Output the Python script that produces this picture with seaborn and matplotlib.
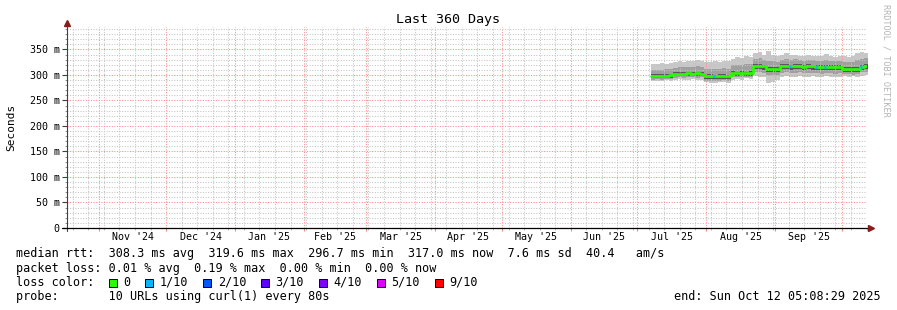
import matplotlib
matplotlib.use("Agg")
import numpy as np
import pandas as pd
import seaborn as sns
import matplotlib.pyplot as plt
import matplotlib.dates as mdates
import matplotlib.transforms as mtransforms
from matplotlib.ticker import MultipleLocator, FuncFormatter
from matplotlib.patches import Rectangle

# ---------------- data (2-day bins starting 2025-07-07, values in ms) ----------------
bin_start = "2025-07-07"
med = [297.5, 298.0, 297.5, 298.5, 299.0,
       301.5, 302.5, 302.0, 303.0, 302.5, 303.0, 302.0,
       298.0, 297.5, 297.0, 297.5, 298.0, 297.0,
       304.5, 303.0, 304.0, 303.0, 303.5,
       317.0, 317.5, 316.5,
       312.5, 312.0, 312.0,
       317.0, 318.0, 316.5, 317.0, 317.0, 316.0, 317.0, 316.5,
       315.5, 315.0, 316.0, 315.5, 315.0, 315.5,
       312.0, 312.5, 311.5, 312.0,
       316.0, 318.0]
loss = [0, 0, 0, 0, 0,
        0, 0, 0, 0, 0, 0, 0,
        0, 0, 1, 0, 0, 0,
        0, 0, 0, 0, 0,
        0, 0, 0,
        0, 0, 0,
        0, 0, 1, 0, 0, 0, 0, 0,
        1, 0, 1, 0, 0, 0,
        0, 0, 0, 0,
        1, 0]
smoke_max = [321, 322, 323, 322, 324,
             325, 327, 326, 328, 327, 329, 327,
             326, 325, 327, 326, 328, 327,
             332, 335, 334, 337, 336,
             343, 345, 340,
             346, 339, 337,
             340, 342, 339, 340, 338, 337, 339, 338,
             337, 338, 341, 337, 336, 338,
             337, 336, 338, 342,
             344, 343]
smoke_hi2 = [309, 310, 310, 311, 311,
             314, 316, 315, 316, 315, 317, 315,
             312, 311, 312, 311, 313, 312,
             319, 320, 320, 322, 321,
             331, 333, 330,
             328, 327, 326,
             330, 332, 330, 331, 329, 328, 330, 329,
             328, 328, 330, 328, 327, 328,
             325, 325, 326, 329,
             331, 333]
smoke_hi3 = [301, 301.5, 301, 302, 302.5,
             305, 306, 305.5, 306.5, 306, 306.5, 305.5,
             301.5, 301, 300.5, 301, 301.5, 300.5,
             308, 306.5, 307.5, 306.5, 307,
             320.5, 321, 320,
             316, 315.5, 315.5,
             320.5, 321.5, 320, 320.5, 320.5, 319.5, 320.5, 320,
             319, 318.5, 319.5, 319, 318.5, 319,
             315.5, 316, 315, 315.5,
             319.5, 321.5]
smoke_lo3 = [293, 293.5, 293, 294, 294.5,
             297, 298, 297.5, 298.5, 298, 298.5, 297.5,
             292.5, 292, 291.5, 292, 292.5, 291.5,
             299, 298, 299, 298, 298.5,
             311, 311.5, 310.5,
             306, 305.5, 306,
             311, 312, 310.5, 311, 311, 310, 311, 310.5,
             310, 309.5, 310.5, 310, 309.5, 310,
             306, 306.5, 305.5, 306,
             310, 312]
smoke_lo2 = [291, 292, 291, 292, 292,
             294, 295, 294, 295, 295, 294, 295,
             289, 289, 288, 289, 290, 289,
             295, 295, 296, 295, 296,
             305, 306, 304,
             299, 299, 300,
             304, 305, 303, 304, 305, 303, 304, 304,
             303, 302, 304, 303, 302, 303,
             301, 301, 300, 301,
             305, 306]
smoke_min = [288, 289, 288, 290, 289,
             291, 292, 290, 291, 292, 290, 291,
             286, 285, 285, 286, 287, 285,
             291, 292, 291, 293, 292,
             297, 296, 295,
             284, 286, 290,
             296, 297, 295, 296, 297, 296, 295, 297,
             296, 295, 297, 296, 295, 296,
             297, 296, 297, 296,
             298, 299]

loss_labels = ["0", "1/10", "2/10", "3/10", "4/10", "5/10", "9/10"]
loss_colors = ["#26ff00", "#00b8ff", "#0059ff", "#5e00ff", "#7e00ff", "#dd00ff", "#ff0000"]

title = "Last 360 Days"
ylabel = "Seconds"
range_start = "2024-10-17 05:08:29"
range_end = "2025-10-12 05:08:29"
stat_lines = [
    "median rtt:  308.3 ms avg  319.6 ms max  296.7 ms min  317.0 ms now  7.6 ms sd  40.4   am/s",
    "packet loss: 0.01 % avg  0.19 % max  0.00 % min  0.00 % now",
]
probe_line = "probe:       10 URLs using curl(1) every 80s"
end_line = "end: Sun Oct 12 05:08:29 2025"
watermark = "RRDTOOL / TOBI OETIKER"

# ---------------- style ----------------
sns.set_theme(style="white")
plt.rcParams['font.family'] = ['DejaVu Sans Mono', 'DejaVu Sans']

W, H = 897, 310
fig = plt.figure(figsize=(W / 100, H / 100), dpi=100, facecolor="white")
ax = fig.add_axes([66.5 / W, 82 / H, 800.5 / W, 201 / H])
ax.set_facecolor("white")

start = pd.Timestamp(range_start)
end = pd.Timestamp(range_end)

dates = pd.date_range(bin_start, periods=len(med), freq="2D")
edges = dates.append(pd.DatetimeIndex([dates[-1] + pd.Timedelta(days=2)]))


def ext(a):
    a = np.asarray(a, dtype=float)
    return np.append(a, a[-1])


# smoke
ax.fill_between(edges, ext(smoke_min), ext(smoke_max), step="post", color="#c8c8c8", lw=0, zorder=1)
ax.fill_between(edges, ext(smoke_lo2), ext(smoke_hi2), step="post", color="#a0a0a0", lw=0, zorder=1)
ax.fill_between(edges, ext(smoke_lo3), ext(smoke_hi3), step="post", color="#585858", lw=0, zorder=1)

# median
df = pd.DataFrame({"date": edges, "median": ext(med)})
sns.lineplot(data=df, x="date", y="median", ax=ax, color=loss_colors[0], lw=1.9,
             drawstyle="steps-post", zorder=3, errorbar=None)
for d, m, l in zip(dates, med, loss):
    if l:
        ax.hlines(m, d, d + pd.Timedelta(hours=22), color=loss_colors[l], lw=1.9, zorder=4)

ax.set_xlim(start, end)
ax.set_ylim(0, 393.9)
ax.set_xlabel("")
ax.set_ylabel("")

# grid
ax.xaxis.set_major_locator(mdates.MonthLocator())
ax.xaxis.set_minor_locator(mdates.WeekdayLocator(byweekday=mdates.SU))
ax.yaxis.set_major_locator(MultipleLocator(50))
ax.yaxis.set_minor_locator(MultipleLocator(10))
ax.yaxis.set_major_formatter(FuncFormatter(lambda v, p: "0" if v == 0 else f"{v:.0f} m"))
ax.grid(which="major", color="#ff8c8c", ls=(0, (1, 1.5)), lw=0.75)
ax.grid(which="minor", color="#c4c4c4", ls=(0, (1, 1.5)), lw=0.75)
ax.set_axisbelow("line")

for s in ax.spines.values():
    s.set_visible(False)

ax.tick_params(axis="y", which="major", left=True, length=3.5, width=0.8, color="#404040",
               direction="out", pad=1.5, labelsize=7.2, labelcolor="black")
ax.tick_params(axis="y", which="minor", left=True, length=1.5, width=0.6, color="#808080", direction="out")
ax.tick_params(axis="x", which="major", bottom=True, length=2.2, width=0.8, color="#ff8080",
               direction="out", labelbottom=False)
ax.tick_params(axis="x", which="minor", bottom=True, length=1.5, width=0.6, color="#b0b0b0", direction="out")

# axis lines + arrows
ax.plot([0, 0], [-0.015, 1.022], transform=ax.transAxes, color="#404040", lw=0.8, clip_on=False, zorder=5)
ax.plot([-0.006, 1.003], [0, 0], transform=ax.transAxes, color="black", lw=0.9, clip_on=False, zorder=5)
ax.plot([0], [1.018], marker="^", color="#8b1a1a", ms=5, transform=ax.transAxes, clip_on=False, zorder=6)
ax.plot([1.0044], [0], marker=">", color="#8b1a1a", ms=5, transform=ax.transAxes, clip_on=False, zorder=6)

# month labels centred in each month
trans = mtransforms.blended_transform_factory(ax.transData, ax.transAxes)
months = pd.date_range("2024-11-01", "2025-09-01", freq="MS")
for m in months:
    nxt = m + pd.offsets.MonthBegin(1)
    mid = m + (nxt - m) / 2
    ax.text(mdates.date2num(mid), -0.047, m.strftime("%b '%y"), transform=trans,
            ha="center", va="center", fontsize=7.2, color="black")

# texts
fig.text(448 / W, 1 - 19 / H, title, ha="center", va="center", fontsize=9.6, color="black")
fig.text(11 / W, 1 - 127 / H, ylabel, ha="center", va="center", rotation=90, fontsize=8, color="black")
fig.text(886 / W, 1 - 60 / H, watermark, ha="center", va="center", rotation=270, fontsize=6.1, color="#b4b4b4")

fs = 8.45
fig.text(16 / W, 1 - 254 / H, stat_lines[0], ha="left", va="center", fontsize=fs, color="black")
fig.text(16 / W, 1 - 268.3 / H, stat_lines[1], ha="left", va="center", fontsize=fs, color="black")
fig.text(16 / W, 1 - 282.3 / H, "loss color:", ha="left", va="center", fontsize=fs, color="black")
x = 108.7
for lab, col in zip(loss_labels, loss_colors):
    fig.patches.append(Rectangle((x / W, 1 - 287 / H), 8 / W, 8 / H, transform=fig.transFigure,
                                 facecolor=col, edgecolor="black", lw=0.7))
    fig.text((x + 14.5) / W, 1 - 282.3 / H, lab, ha="left", va="center", fontsize=fs, color="black")
    x += 29.6 + len(lab) * 7.07
fig.text(16 / W, 1 - 296.7 / H, probe_line, ha="left", va="center", fontsize=fs, color="black")
fig.text(881 / W, 1 - 296.7 / H, end_line, ha="right", va="center", fontsize=fs, color="black")

fig.savefig("out.png", dpi=100, facecolor="white")
